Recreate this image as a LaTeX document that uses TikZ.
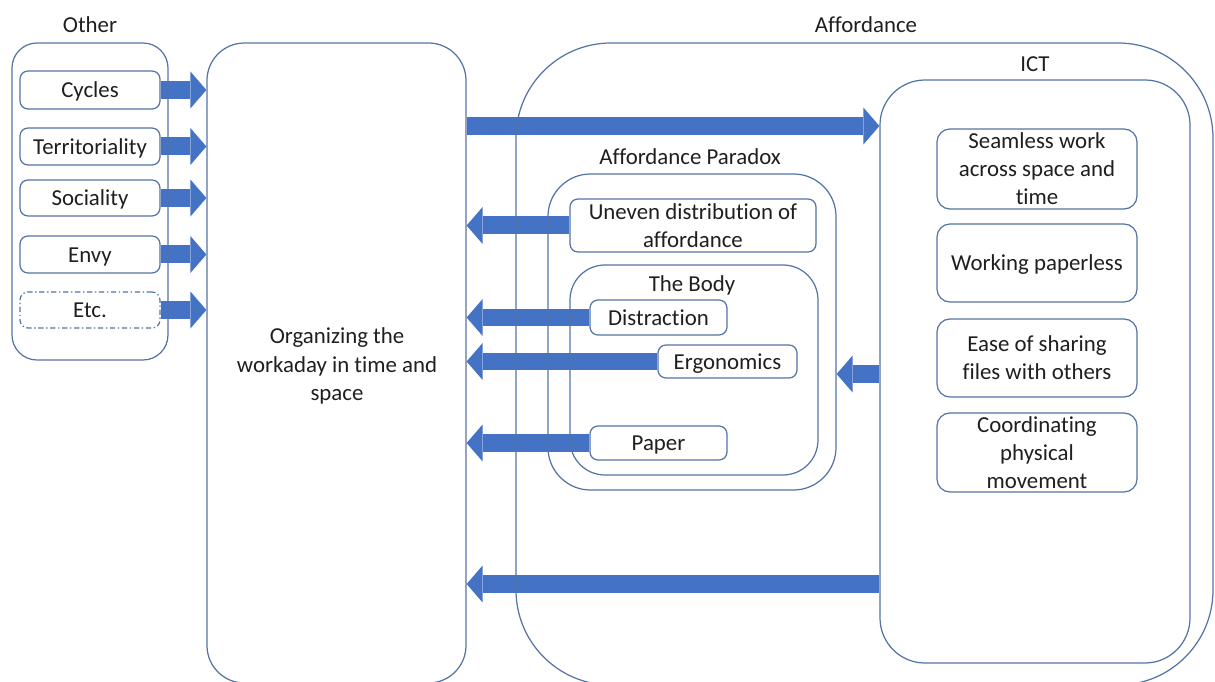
\documentclass[tikz,border=0pt]{standalone}
\usepackage{fontspec}
\setmainfont{Carlito}[Ligatures={NoCommon,NoContextual}]
\usetikzlibrary{arrows.meta,backgrounds}

\begin{document}
\begin{tikzpicture}[x=0.02cm,y=-0.02cm,line join=round]
        \definecolor{framebl}{rgb}{0.33,0.45,0.65}
        \definecolor{arrowbl}{HTML}{4472C4}
        \tikzset{every node/.style={font=\fontsize{13}{16}\selectfont,text=black!88},
                frame/.style={draw=framebl,line width=0.7pt,rounded corners=#1},
                item/.style={frame=0.16cm,fill=white,align=center,inner sep=0pt},
                oneline/.style={text height=12pt,text depth=3pt},
                ictitem/.style={frame=0.26cm,fill=white,align=center,inner sep=0pt},
                sz/.style 2 args={minimum width=#1*0.02cm,minimum height=#2*0.02cm},
                fat/.style={arrowbl,line width=0.36cm,
                        -{Triangle[width=0.74cm,length=0.32cm,line width=0pt]}}}
        \useasboundingbox (0,0) rectangle (1215,682);
        \clip (0,0) rectangle (1215,682);
        % containers
        \node[frame=0.5cm,sz={156}{317}] (other) at (90,201.5) {};
        \node[frame=0.75cm,sz={259}{640}] (org) at (336.5,363) {};
        \node[align=center] (orgtxt) at (337,366) {Organizing the\\workaday in time and\\space};
        \node[frame=1.9cm,sz={697}{642}] (aff) at (864.5,364) {};
        \node[frame=0.9cm,sz={310}{583}] (ict) at (1035,371.5) {};
        \node[frame=0.85cm,sz={288}{316}] (par) at (692,332) {};
        \node[frame=0.7cm,sz={248}{210}] (body) at (694,370) {};
        % titles
        \node (tother) at (90,25) {Other};
        \node (taff) at (866,25) {Affordance};
        \node (tict) at (1035,64) {ICT};
        \node (tpar) at (690,157) {Affordance Paradox};
        \node (tbody) at (692,285) {The Body};
        % other factors
        \node[item,oneline,sz={140}{38}] (cyc) at (90,90) {Cycles};
        \node[item,oneline,sz={140}{37}] (ter) at (90,146.5) {Territoriality};
        \node[item,oneline,sz={140}{36}] (soc) at (90,198) {Sociality};
        \node[item,oneline,sz={140}{37}] (envy) at (90,254.5) {Envy};
        \node[item,oneline,sz={140}{36},dash pattern=on 3pt off 1.5pt on 0.8pt off 1.5pt] (etc) at (90,310) {Etc.};
        % paradox items
        \node[item,sz={246}{53}] (unev) at (693,225.5) {Uneven distribution of\\affordance};
        \node[item,oneline,sz={137}{35}] (dis) at (658.5,317.5) {Distraction};
        \node[item,oneline,sz={139}{33}] (erg) at (727.5,361.5) {Ergonomics};
        \node[item,oneline,sz={137}{34}] (pap) at (658.5,443) {Paper};
        % ict items
        \node[ictitem,sz={200}{80}] (seam) at (1037,169) {Seamless work\\across space and\\time};
        \node[ictitem,oneline,sz={200}{78}] (pless) at (1037,263) {Working paperless};
        \node[ictitem,sz={200}{78}] (ease) at (1037,358) {Ease of sharing\\files with others};
        \node[ictitem,sz={200}{79}] (coord) at (1037,452.5) {Coordinating\\physical\\movement};
        \coordinate (r1) at (0,126);
        \coordinate (r2) at (0,374);
        \coordinate (r3) at (0,584);
        % arrows
        \begin{scope}[on background layer]
                \foreach \n in {cyc,ter,soc,envy,etc}
                        \draw[fat] (\n.east) -- (\n.east -| org.west);
                \foreach \n in {unev,dis,erg,pap}
                        \draw[fat] (\n.west) -- (\n.west -| org.east);
                \draw[fat] (r1 -| org.east) -- (r1 -| ict.west);
                \draw[fat] (r2 -| ict.west) -- (r2 -| par.east);
                \draw[fat] (r3 -| ict.west) -- (r3 -| org.east);
        \end{scope}
\end{tikzpicture}
\end{document}
